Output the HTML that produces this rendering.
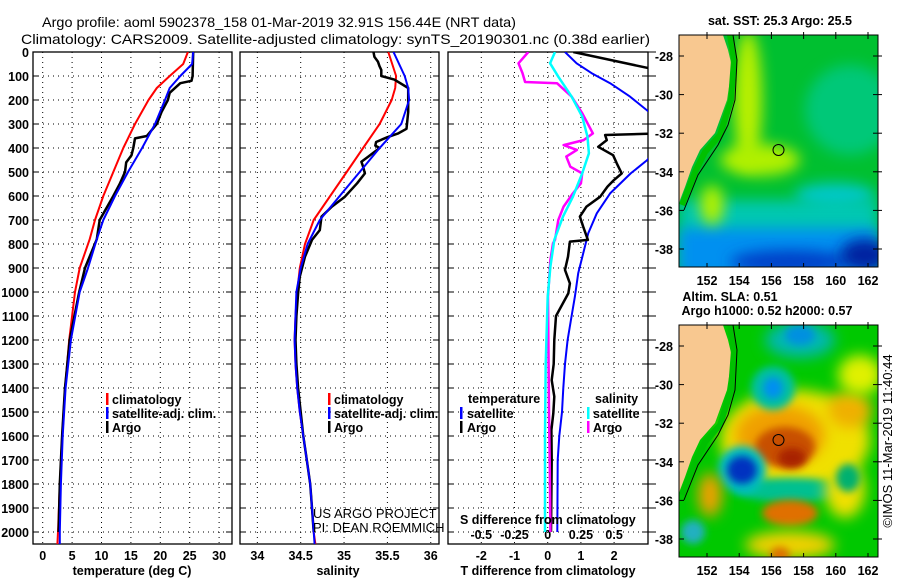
<!DOCTYPE html>
<html><head><meta charset="utf-8"><style>
html,body{margin:0;padding:0;background:#fff;}
svg{display:block;font-family:"Liberation Sans",sans-serif;}
.t{font-weight:bold;font-size:12.5px;fill:#000;}
.g{stroke:#000;stroke-width:1;stroke-dasharray:1,4;}
</style></head><body>
<svg id="chart" width="900" height="580" viewBox="0 0 900 580" xmlns="http://www.w3.org/2000/svg">
<text x="42" y="27" font-size="14" textLength="474" lengthAdjust="spacingAndGlyphs">Argo profile: aoml 5902378_158 01-Mar-2019 32.91S 156.44E (NRT data)</text>
<text x="21" y="44" font-size="14" textLength="629" lengthAdjust="spacingAndGlyphs">Climatology: CARS2009. Satellite-adjusted climatology: synTS_20190301.nc (0.38d earlier)</text>
<defs>
<clipPath id="c1"><rect x="33" y="52" width="199" height="492"/></clipPath>
<clipPath id="c2"><rect x="240" y="52" width="199" height="492"/></clipPath>
<clipPath id="c3"><rect x="448" y="52" width="200" height="492"/></clipPath>
<clipPath id="m1"><rect x="679" y="35" width="199" height="232"/></clipPath>
<clipPath id="m2"><rect x="679" y="325" width="199" height="232"/></clipPath>
<filter id="bl" x="-50%" y="-50%" width="200%" height="200%"><feGaussianBlur stdDeviation="7"/></filter>
<filter id="bl2" x="-50%" y="-50%" width="200%" height="200%"><feGaussianBlur stdDeviation="4"/></filter>
</defs>
<g id="grid"></g>
<g id="marks"></g>
<g>
<rect x="106" y="393" width="2.5" height="12" fill="#f00"/><text class="t" x="112" y="404">climatology</text>
<rect x="106" y="407" width="2.5" height="12" fill="#00f"/><text class="t" x="112" y="418">satellite-adj. clim.</text>
<rect x="106" y="421" width="2.5" height="12" fill="#000"/><text class="t" x="112" y="432">Argo</text>
</g>
<g>
<rect x="328" y="393" width="2.5" height="12" fill="#f00"/><text class="t" x="334" y="404">climatology</text>
<rect x="328" y="407" width="2.5" height="12" fill="#00f"/><text class="t" x="334" y="418">satellite-adj. clim.</text>
<rect x="328" y="421" width="2.5" height="12" fill="#000"/><text class="t" x="334" y="432">Argo</text>
</g>
<g>
<text class="t" x="468" y="403">temperature</text>
<rect x="460" y="407" width="2.5" height="12" fill="#00f"/><text class="t" x="467" y="418">satellite</text>
<rect x="460" y="421" width="2.5" height="12" fill="#000"/><text class="t" x="467" y="432">Argo</text>
<text class="t" x="595" y="403">salinity</text>
<rect x="587" y="407" width="2.5" height="12" fill="#0ff"/><text class="t" x="593" y="418">satellite</text>
<rect x="587" y="421" width="2.5" height="12" fill="#f0f"/><text class="t" x="593" y="432">Argo</text>
</g>
<text x="313" y="518" font-size="13" fill="#000">US ARGO PROJECT</text>
<text x="313" y="532" font-size="13" fill="#000">PI: DEAN ROEMMICH</text>
<text class="t" x="460" y="524" font-size="13">S difference from climatology</text>
<text class="t" x="132" y="575" text-anchor="middle">temperature (deg C)</text>
<text class="t" x="338" y="575" text-anchor="middle">salinity</text>
<text class="t" x="548" y="575" text-anchor="middle">T difference from climatology</text>

<g clip-path="url(#m1)">
<rect x="679" y="35" width="199" height="232" fill="#00c030"/>
<ellipse cx="850" cy="110" rx="45" ry="45" fill="#00c878" filter="url(#bl)"/>
<rect x="679" y="200" width="199" height="72" fill="#00c8b0" filter="url(#bl)"/>
<rect x="679" y="228" width="199" height="50" fill="#0090f0" filter="url(#bl)"/>
<ellipse cx="790" cy="262" rx="60" ry="12" fill="#0040c8" filter="url(#bl)"/>
<ellipse cx="865" cy="255" rx="25" ry="16" fill="#0020a0" filter="url(#bl)"/>
<ellipse cx="748" cy="100" rx="14" ry="70" fill="#b8f000" filter="url(#bl)"/>
<ellipse cx="760" cy="160" rx="40" ry="16" fill="#b0f000" filter="url(#bl)"/>
<ellipse cx="712" cy="205" rx="12" ry="20" fill="#b0f000" filter="url(#bl)"/>
<ellipse cx="835" cy="195" rx="40" ry="12" fill="#00c8c8" filter="url(#bl)"/>
<polygon fill="#f8c890" points="679,35 723,35 728,50 732,67 727,100 715,133 700,150 692,167 685,187 680,200 679,205"/>
<polyline fill="none" stroke="#00c000" stroke-width="6" points="730,35 734,60 731,100 720,135 705,152 696,170 688,190 682,205"/>
<polyline fill="none" stroke="#000" stroke-width="1" points="733,35 737,60 735,100 728,125 718,145 708,160 698,175 690,195 684,210"/>
<circle cx="778.5" cy="150" r="5.5" fill="none" stroke="#000"/>
</g>
<rect x="679" y="35" width="199" height="232" fill="none" stroke="#000"/>
<g clip-path="url(#m2)">
<rect x="679" y="325" width="199" height="232" fill="#00c800"/>
<ellipse cx="800" cy="340" rx="35" ry="18" fill="#00b8b0" filter="url(#bl)"/>
<ellipse cx="800" cy="335" rx="15" ry="10" fill="#0090e0" filter="url(#bl2)"/>
<ellipse cx="795" cy="440" rx="75" ry="50" fill="#f0e000" filter="url(#bl)"/>
<ellipse cx="780" cy="435" rx="45" ry="30" fill="#f0a000" filter="url(#bl)"/>
<ellipse cx="785" cy="447" rx="30" ry="20" fill="#c85000" filter="url(#bl2)"/>
<ellipse cx="792" cy="458" rx="14" ry="10" fill="#a82000" filter="url(#bl2)"/>
<ellipse cx="850" cy="410" rx="22" ry="18" fill="#f0b000" filter="url(#bl)"/>
<ellipse cx="773" cy="388" rx="22" ry="22" fill="#00c0a0" filter="url(#bl2)"/>
<ellipse cx="773" cy="388" rx="10" ry="11" fill="#0090f0" filter="url(#bl2)"/>
<ellipse cx="790" cy="490" rx="55" ry="12" fill="#00c090" filter="url(#bl2)"/>
<ellipse cx="742" cy="470" rx="24" ry="24" fill="#00c0c0" filter="url(#bl2)"/>
<ellipse cx="742" cy="470" rx="15" ry="14" fill="#0030c0" filter="url(#bl2)"/>
<ellipse cx="710" cy="495" rx="12" ry="22" fill="#f0a000" filter="url(#bl)"/>
<ellipse cx="790" cy="513" rx="28" ry="13" fill="#e07000" filter="url(#bl2)"/>
<ellipse cx="790" cy="545" rx="45" ry="14" fill="#f0d000" filter="url(#bl)"/>
<ellipse cx="780" cy="555" rx="10" ry="8" fill="#e07000" filter="url(#bl2)"/>
<ellipse cx="845" cy="490" rx="20" ry="28" fill="#f0e000" filter="url(#bl)"/>
<ellipse cx="848" cy="478" rx="12" ry="14" fill="#00b070" filter="url(#bl2)"/>
<ellipse cx="693" cy="532" rx="12" ry="12" fill="#20b0c0" filter="url(#bl2)"/>
<ellipse cx="860" cy="375" rx="22" ry="20" fill="#e0f000" filter="url(#bl)"/>
<polygon fill="#f8c890" points="679,325 723,325 728,340 732,357 727,390 715,423 700,440 692,457 685,477 680,490 679,495"/>
<polyline fill="none" stroke="#00c000" stroke-width="6" points="730,325 734,350 731,390 720,425 705,442 696,460 688,480 682,495"/>
<polyline fill="none" stroke="#000" stroke-width="1" points="733,325 737,350 735,390 728,415 718,435 708,450 698,465 690,485 684,500"/>
<circle cx="778.5" cy="440" r="5.5" fill="none" stroke="#000"/>
</g>
<rect x="679" y="325" width="199" height="232" fill="none" stroke="#000"/>
<text class="t" x="780" y="25" text-anchor="middle">sat. SST: 25.3 Argo: 25.5</text>
<text class="t" x="730" y="301" text-anchor="middle">Altim. SLA: 0.51</text>
<text class="t" x="767" y="315" text-anchor="middle">Argo h1000: 0.52 h2000: 0.57</text>
<text transform="translate(892,441) rotate(-90)" font-size="13" text-anchor="middle">©IMOS 11-Mar-2019 11:40:44</text>
<g id="maxes"></g>
</svg>
<script>
const depthA=[0,50,100,150,200,300,400,500,600,700,780,900,1000,1200,1400,1600,1800,2000,2050];
const tempClim=[24.7,23.9,21.6,19.4,18,15.7,13.7,12,10.3,8.9,8.0,6.3,5.5,4.5,3.8,3.3,2.9,2.6,2.5];
const tempSat=[25.6,25.4,23.4,21.6,20.8,19.1,16.9,14.5,12.3,10.3,9.2,7.7,6.3,4.8,3.9,3.4,3.1,2.9,2.9];
const depthT=[0,100,120,130,170,200,250,300,350,360,400,430,460,500,550,600,700,780,900,1000,1200,1400,1600,1800,2000];
const tempArgo=[25.6,25.5,25.3,23.4,21.6,21.3,20.2,19.4,17.7,15.7,15.4,15.1,14.2,14,13.1,12,9.7,9.2,7.2,6.2,4.6,3.8,3.3,2.9,2.7];
const depthS=[0,100,150,200,300,400,500,600,700,800,900,1000,1100,1200,1300,1400,1500,1600,1700,1800,1900,2000,2050];
const salClim=[35.51,35.60,35.59,35.55,35.41,35.22,35.03,34.84,34.65,34.55,34.49,34.46,34.44,34.43,34.44,34.46,34.49,34.53,34.57,34.61,34.63,34.65,34.67];
const salSat=[35.57,35.70,35.74,35.75,35.66,35.41,35.18,34.95,34.72,34.58,34.50,34.45,34.44,34.43,34.44,34.46,34.49,34.53,34.57,34.61,34.63,34.65,34.66];
const depthSA=[0,20,40,60,75,100,115,150,200,250,320,340,355,375,390,400,436,457,478,506,547,603,644,686,742,783,853,936,1006,1100,1200,1300,1400,1500,1600,1700,1800,1900,2000];
const salArgo=[35.34,35.35,35.39,35.41,35.43,35.43,35.58,35.74,35.74,35.74,35.72,35.62,35.50,35.37,35.36,35.41,35.28,35.20,35.22,35.24,35.15,35.01,34.86,34.74,34.72,34.63,34.55,34.49,34.47,34.45,34.44,34.45,34.47,34.50,34.53,34.57,34.61,34.63,34.65];
const depthD=[0,47,88,130,186,255,300,350,400,450,506,589,672,756,839,922,1019,1100,1200,1300,1400,1500,1600,1700,2000];
const tdiffSat=[0.52,0.87,1.32,1.88,2.48,3.1,3.4,3.4,3.3,3.0,2.5,1.88,1.48,1.22,1.07,0.92,0.82,0.72,0.6,0.52,0.47,0.43,0.35,0.3,0.29];
const depthTD=[0,72,340,346,367,395,430,464,506,533,561,603,644,686,728,783,790,853,908,964,1006,1100,1200,1300,1367,1436,1506,1575,1700,2000];
const tdiffArgo=[0.77,3.2,3.2,1.73,1.78,1.52,1.97,2.08,2.23,2.0,1.8,1.58,1.17,0.97,1.07,1.21,0.67,0.61,0.52,0.67,0.62,0.25,0.2,0.18,0.12,0.2,0.17,0.11,0.12,0.1];
const depthSD=[0,47,88,125,130,186,255,339,367,388,408,436,478,506,547,589,644,700,783,797,867,1019,1200,1500,1700,2000];
const sdiffArgo=[-0.146,-0.22,-0.19,-0.17,0.07,0.18,0.26,0.34,0.27,0.12,0.22,0.14,0.17,0.26,0.25,0.19,0.12,0.08,0.055,0.04,0.02,0.002,0.005,0.01,0.015,0.02];
const depthSC=[0,47,103,186,269,353,422,506,603,686,783,894,1019,1300,1600,2000];
const sdiffSat=[0.055,0.018,0.08,0.18,0.26,0.30,0.31,0.26,0.19,0.115,0.05,0.02,0,-0.015,-0.02,-0.02];
const depthTicks=[0,100,200,300,400,500,600,700,800,900,1000,1100,1200,1300,1400,1500,1600,1700,1800,1900,2000];
const tempTicks=[0,5,10,15,20,25,30];
const salTicks=[34,34.5,35,35.5,36];
const tdTicks=[-2,-1,0,1,2];
const sdTicks=[-0.5,-0.25,0,0.25,0.5];
const sdLabels=["-0.5","-0.25","0","0.25","0.5"];
const latTicks=[-28,-30,-32,-34,-36,-38];
const lonTicks=[152,154,156,158,160,162];

const NS="http://www.w3.org/2000/svg";
const yD=d=>52+d*0.24;
const xT=t=>42.7+t*5.88;
const xS=s=>300.7+(s-34.5)*86.7;
const xTD=v=>547.7+v*33.2;
const xSD=v=>547.7+v*132.8;
const grid=document.getElementById('grid'), marks=document.getElementById('marks'), maxes=document.getElementById('maxes');
function el(tag,attrs,parent){const e=document.createElementNS(NS,tag);for(const k in attrs)e.setAttribute(k,attrs[k]);parent.appendChild(e);return e;}
const panels=[[33,232,'temperature-panel'],[240,439,'salinity-panel'],[448,648,'difference-panel']];
panels.forEach(([x0,x1,nm])=>{
  const r=el('rect',{x:x0,y:52,width:x1-x0,height:492,fill:'none',stroke:'#000','stroke-width':1.3},grid);
  
  
  depthTicks.forEach(d=>{
    const l=el('line',{x1:x0,x2:x1,y1:yD(d),y2:yD(d),class:'g'},grid);
    
    
    el('line',{x1:x0,x2:x0+6,y1:yD(d),y2:yD(d),stroke:'#000'},grid);
    el('line',{x1:x1-6,x2:x1,y1:yD(d),y2:yD(d),stroke:'#000'},grid);
  });
});
depthTicks.forEach(d=>{
  const t=el('text',{x:29,y:yD(d)+5,class:'t','text-anchor':'end'},grid);t.textContent=d;
  
  
  el('line',{x1:648,x2:656,y1:yD(d),y2:yD(d),stroke:'#000'},grid);
});
function xticks(ticks,fx,labels,y,nm){ticks.forEach((v,i)=>{
  el('line',{x1:fx(v),x2:fx(v),y1:52,y2:544,class:'g'},grid);
  const t=el('text',{x:fx(v),y:y,class:'t','text-anchor':'middle'},grid);t.textContent=labels?labels[i]:v;
  
  
});}
xticks(tempTicks,xT,null,560,'temperature-tick-label');
xticks(salTicks,xS,null,560,'salinity-tick-label');
xticks(tdTicks,xTD,null,560,'t-diff-tick-label');
sdTicks.forEach((v,i)=>{const t=el('text',{x:xSD(v),y:539,class:'t','text-anchor':'middle'},grid);t.textContent=sdLabels[i];
  
  });
function line(xs,ds,fx,color,w,clip,nm){
  const pts=xs.map((v,i)=>fx(v).toFixed(1)+','+yD(ds[i]).toFixed(1)).join(' ');
  const p=el('polyline',{points:pts,fill:'none',stroke:color,'stroke-width':w,'clip-path':'url(#'+clip+')','stroke-linejoin':'round'},marks);
  
  
}
line(tempClim,depthA,xT,'#f00',2,'c1','temperature-climatology-line');
line(tempArgo,depthT,xT,'#000',2.5,'c1','temperature-argo-line');
line(tempSat,depthA,xT,'#00f',2,'c1','temperature-satellite-line');
line(salClim,depthS,xS,'#f00',2,'c2','salinity-climatology-line');
line(salArgo,depthSA,xS,'#000',2.5,'c2','salinity-argo-line');
line(salSat,depthS,xS,'#00f',2,'c2','salinity-satellite-line');
line(tdiffSat,depthD,xTD,'#00f',2,'c3','t-diff-satellite-line');
line(tdiffArgo,depthTD,xTD,'#000',2.5,'c3','t-diff-argo-line');
line(sdiffArgo,depthSD,xSD,'#f0f',2.5,'c3','s-diff-argo-line');
line(sdiffSat,depthSC,xSD,'#0ff',2.5,'c3','s-diff-satellite-line');
const lonX=v=>707+(v-152)*16.1;
const latY=(v,top)=>top+21+(-28-v)*19.3;
[35,325].forEach(top=>{
  latTicks.forEach(v=>{const y=latY(v,top);
    el('line',{x1:679,x2:684,y1:y,y2:y,stroke:'#000'},maxes);el('line',{x1:873,x2:882,y1:y,y2:y,stroke:'#000'},maxes);
    const t=el('text',{x:673,y:y+5,class:'t','text-anchor':'end'},maxes);t.textContent=v;
    
    });
  lonTicks.forEach(v=>{const x=lonX(v);
    el('line',{x1:x,x2:x,y1:top-3,y2:top+4,stroke:'#000'},maxes);el('line',{x1:x,x2:x,y1:top+228,y2:top+232,stroke:'#000'},maxes);
    const t=el('text',{x:x,y:top+250,class:'t','text-anchor':'middle'},maxes);t.textContent=v;
    
    });
});
</script>
</body></html>
